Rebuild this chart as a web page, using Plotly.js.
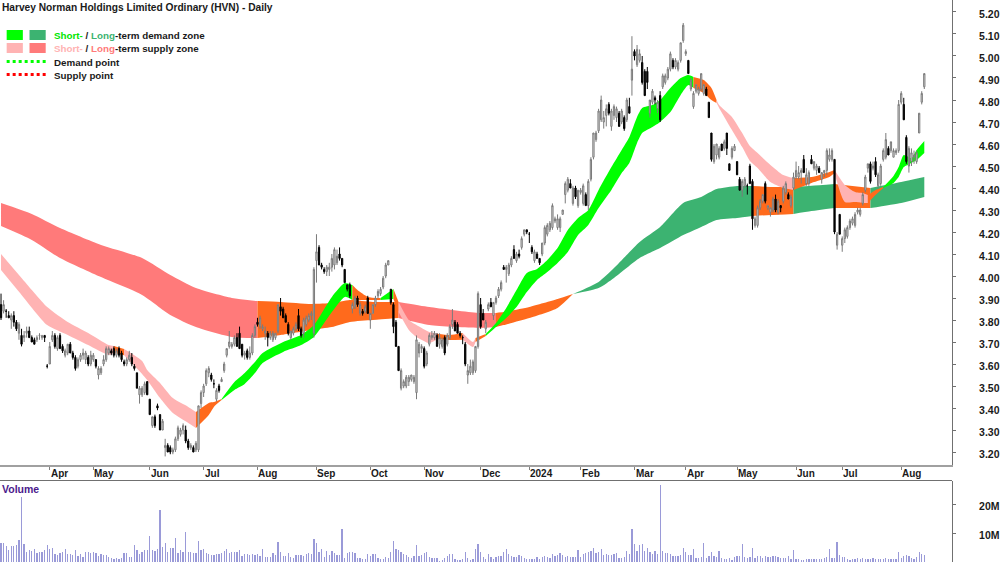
<!DOCTYPE html>
<html>
<head>
<meta charset="utf-8">
<script src="https://cdn.plot.ly/plotly-3.0.1.min.js"></script>
<style>body{margin:0;background:#fff}</style>
</head>
<body>
<div id="grafico" style="width:1000px;height:562px"></div>
<script>
/* Daily bars (ten per line) */
var open = [
3.87,3.84,3.84,3.82,3.80,3.82,3.79,3.74,3.73,3.72,
3.74,3.75,3.72,3.71,3.71,3.73,3.72,3.73,3.59,3.60,
3.71,3.73,3.67,3.73,3.68,3.64,3.65,3.69,3.65,3.63,
3.59,3.62,3.64,3.62,3.63,3.60,3.62,3.62,3.55,3.56,
3.60,3.62,3.65,3.66,3.67,3.64,3.67,3.65,3.61,3.60,
3.62,3.63,3.59,3.56,3.46,3.46,3.47,3.52,3.44,3.32,
3.36,3.41,3.37,3.30,3.22,3.23,3.22,3.20,3.21,3.26,
3.28,3.30,3.30,3.25,3.22,3.22,3.21,3.21,3.42,3.47,
3.51,3.56,3.55,3.51,3.44,3.50,3.52,3.57,3.64,3.68,
3.68,3.69,3.72,3.74,3.69,3.64,3.66,3.63,3.65,3.73,
3.79,3.77,3.76,3.74,3.74,3.72,3.71,3.72,3.75,3.86,
3.85,3.82,3.78,3.72,3.74,3.76,3.82,3.76,3.74,3.78,
3.80,3.82,3.74,4.07,4.13,4.05,4.03,4.02,4.03,4.04,
4.05,4.06,4.10,4.08,4.03,3.96,3.96,3.85,3.86,3.90,
3.83,3.84,3.84,3.90,3.80,3.83,3.87,3.91,3.92,3.95,
4.00,4.05,3.94,3.87,3.79,3.68,3.49,3.50,3.50,3.52,
3.53,3.52,3.47,3.65,3.67,3.67,3.60,3.69,3.72,3.72,
3.73,3.69,3.68,3.72,3.69,3.72,3.78,3.79,3.78,3.74,
3.72,3.69,3.55,3.56,3.56,3.57,3.68,3.87,3.83,3.76,
3.85,3.88,3.82,3.88,3.91,3.94,4.04,4.03,4.01,4.05,
4.12,4.07,4.10,4.13,4.19,4.21,4.19,4.13,4.07,4.10,
4.08,4.10,4.15,4.19,4.21,4.22,4.25,4.22,4.22,4.28,
4.37,4.39,4.42,4.33,4.40,4.32,4.38,4.33,4.37,4.32,
4.44,4.54,4.62,4.66,4.71,4.70,4.73,4.78,4.68,4.73,
4.72,4.74,4.70,4.72,4.71,4.77,4.89,5.02,4.96,4.98,
4.97,4.93,4.93,4.74,4.79,4.81,4.76,4.82,4.86,4.88,
4.90,4.94,4.98,4.95,4.94,4.98,5.07,5.01,4.98,4.85,
4.77,4.84,4.83,4.85,4.83,4.85,4.79,4.65,4.52,4.55,
4.54,4.60,4.58,4.65,4.51,4.54,4.57,4.52,4.44,4.39,
4.41,4.41,4.50,4.43,4.23,4.23,4.31,4.34,4.42,4.31,
4.29,4.30,4.35,4.29,4.32,4.34,4.38,4.37,4.32,4.40,
4.45,4.45,4.47,4.53,4.42,4.42,4.53,4.49,4.48,4.49,
4.44,4.47,4.48,4.53,4.53,4.53,4.14,4.28,4.14,4.17,
4.18,4.22,4.24,4.23,4.29,4.28,4.33,4.39,4.49,4.51,
4.49,4.52,4.41,4.42,4.53,4.54,4.58,4.57,4.54,4.56,
4.57,4.79,4.78,4.63,4.50,4.52,4.54,4.52,4.65,4.79,4.86];
var high = [
3.92,3.89,3.85,3.84,3.83,3.84,3.80,3.79,3.76,3.75,
3.77,3.77,3.73,3.72,3.73,3.74,3.73,3.73,3.60,3.70,
3.75,3.74,3.73,3.74,3.69,3.67,3.69,3.70,3.66,3.64,
3.63,3.65,3.67,3.66,3.64,3.66,3.65,3.62,3.59,3.59,
3.64,3.68,3.68,3.67,3.68,3.67,3.68,3.66,3.62,3.63,
3.66,3.65,3.60,3.56,3.50,3.50,3.52,3.52,3.44,3.36,
3.37,3.42,3.37,3.35,3.26,3.24,3.23,3.22,3.27,3.32,
3.31,3.33,3.32,3.26,3.24,3.23,3.25,3.41,3.48,3.51,
3.58,3.59,3.56,3.53,3.49,3.51,3.54,3.61,3.67,3.75,
3.70,3.73,3.74,3.77,3.69,3.66,3.67,3.68,3.74,3.78,
3.81,3.82,3.78,3.77,3.75,3.75,3.75,3.74,3.87,3.90,
3.86,3.83,3.79,3.75,3.77,3.79,3.85,3.77,3.81,3.82,
3.83,3.84,4.04,4.19,4.14,4.06,4.04,4.05,4.06,4.10,
4.13,4.12,4.13,4.08,4.03,3.96,3.97,3.88,3.91,3.91,
3.88,3.85,3.87,3.91,3.83,3.87,3.91,3.94,3.95,4.00,
4.06,4.07,3.94,3.88,3.80,3.68,3.58,3.53,3.55,3.55,
3.55,3.55,3.73,3.70,3.69,3.68,3.66,3.74,3.75,3.75,
3.74,3.74,3.72,3.73,3.74,3.78,3.85,3.80,3.79,3.75,
3.73,3.70,3.60,3.62,3.62,3.68,3.93,3.90,3.85,3.80,
3.88,3.90,3.88,3.91,3.95,3.98,4.05,4.05,4.06,4.09,
4.14,4.11,4.12,4.18,4.21,4.21,4.20,4.14,4.12,4.11,
4.08,4.15,4.23,4.24,4.25,4.33,4.27,4.28,4.27,4.30,
4.43,4.45,4.44,4.41,4.41,4.39,4.40,4.42,4.38,4.44,
4.54,4.65,4.66,4.76,4.82,4.75,4.78,4.79,4.76,4.78,
4.77,4.75,4.76,4.73,4.81,4.81,5.09,5.03,5.05,5.03,
5.00,4.94,4.95,4.80,4.85,4.82,4.80,4.84,4.92,4.92,
4.95,5.02,4.99,4.99,4.98,5.06,5.15,5.03,4.98,4.90,
4.84,4.87,4.86,4.92,4.87,4.86,4.79,4.65,4.60,4.60,
4.59,4.60,4.62,4.65,4.51,4.59,4.60,4.52,4.45,4.44,
4.45,4.42,4.51,4.44,4.27,4.32,4.35,4.37,4.43,4.32,
4.31,4.36,4.37,4.35,4.32,4.41,4.43,4.38,4.37,4.47,
4.52,4.50,4.49,4.55,4.49,4.48,4.55,4.52,4.51,4.50,
4.47,4.48,4.58,4.58,4.58,4.53,4.20,4.28,4.18,4.22,
4.23,4.26,4.27,4.29,4.31,4.31,4.38,4.46,4.51,4.52,
4.52,4.54,4.47,4.51,4.58,4.65,4.59,4.61,4.58,4.58,
4.80,4.84,4.81,4.64,4.59,4.58,4.57,4.57,4.74,4.84,4.92];
var low = [
3.80,3.83,3.81,3.81,3.76,3.77,3.75,3.71,3.68,3.70,
3.72,3.72,3.70,3.69,3.70,3.71,3.71,3.70,3.58,3.60,
3.70,3.67,3.66,3.67,3.65,3.63,3.64,3.65,3.62,3.57,
3.58,3.61,3.62,3.60,3.59,3.59,3.61,3.58,3.53,3.55,
3.59,3.61,3.64,3.64,3.63,3.63,3.63,3.61,3.59,3.59,
3.61,3.59,3.57,3.49,3.42,3.45,3.46,3.46,3.37,3.31,
3.31,3.39,3.30,3.30,3.18,3.20,3.19,3.19,3.20,3.25,
3.27,3.28,3.24,3.21,3.21,3.20,3.20,3.20,3.40,3.45,
3.50,3.54,3.52,3.49,3.43,3.47,3.52,3.56,3.63,3.67,
3.67,3.68,3.68,3.67,3.63,3.62,3.62,3.62,3.64,3.72,
3.77,3.76,3.75,3.71,3.68,3.71,3.70,3.71,3.74,3.82,
3.81,3.79,3.73,3.71,3.73,3.75,3.75,3.72,3.72,3.77,
3.79,3.80,3.72,3.97,4.05,4.03,4.01,4.00,4.00,4.02,
4.03,4.05,4.07,4.04,3.97,3.93,3.90,3.83,3.85,3.86,
3.82,3.82,3.83,3.83,3.76,3.83,3.86,3.90,3.91,3.94,
3.99,4.05,3.87,3.74,3.68,3.57,3.48,3.49,3.49,3.50,
3.52,3.51,3.44,3.63,3.65,3.58,3.59,3.68,3.71,3.71,
3.68,3.67,3.67,3.64,3.68,3.71,3.76,3.75,3.74,3.72,
3.69,3.59,3.51,3.55,3.55,3.56,3.67,3.76,3.80,3.74,
3.84,3.86,3.80,3.87,3.90,3.93,4.03,3.97,4.00,4.04,
4.08,4.06,4.08,4.12,4.18,4.19,4.15,4.10,4.06,4.08,
4.05,4.09,4.14,4.18,4.20,4.21,4.24,4.21,4.20,4.28,
4.33,4.38,4.40,4.32,4.35,4.31,4.37,4.32,4.32,4.30,
4.43,4.53,4.61,4.65,4.70,4.67,4.68,4.73,4.66,4.71,
4.70,4.68,4.69,4.66,4.70,4.74,4.82,4.98,4.95,4.97,
4.87,4.82,4.85,4.72,4.78,4.78,4.74,4.70,4.85,4.87,
4.89,4.93,4.94,4.94,4.93,4.97,5.06,5.00,4.92,4.84,
4.76,4.83,4.82,4.84,4.82,4.82,4.72,4.52,4.51,4.53,
4.53,4.57,4.57,4.55,4.48,4.53,4.57,4.46,4.39,4.36,
4.40,4.37,4.42,4.21,4.22,4.22,4.30,4.33,4.33,4.30,
4.27,4.29,4.29,4.28,4.29,4.33,4.37,4.35,4.31,4.39,
4.44,4.44,4.42,4.47,4.41,4.41,4.51,4.48,4.46,4.47,
4.42,4.45,4.46,4.52,4.52,4.19,4.12,4.19,4.11,4.15,
4.17,4.21,4.23,4.22,4.28,4.27,4.32,4.38,4.47,4.42,
4.48,4.45,4.40,4.41,4.52,4.53,4.55,4.56,4.54,4.55,
4.56,4.78,4.71,4.51,4.47,4.50,4.51,4.51,4.65,4.78,4.85];
var close = [
3.81,3.87,3.84,3.81,3.82,3.79,3.76,3.78,3.69,3.73,
3.75,3.72,3.70,3.69,3.72,3.73,3.73,3.72,3.59,3.68,
3.73,3.68,3.72,3.67,3.66,3.66,3.69,3.65,3.63,3.58,
3.62,3.64,3.65,3.65,3.60,3.64,3.64,3.59,3.58,3.58,
3.62,3.67,3.67,3.65,3.64,3.66,3.64,3.62,3.60,3.62,
3.64,3.60,3.58,3.49,3.49,3.49,3.51,3.46,3.37,3.36,
3.32,3.40,3.30,3.34,3.23,3.20,3.20,3.21,3.26,3.31,
3.30,3.32,3.25,3.22,3.23,3.20,3.24,3.41,3.47,3.50,
3.57,3.58,3.53,3.51,3.48,3.48,3.53,3.60,3.67,3.70,
3.69,3.72,3.68,3.67,3.64,3.65,3.63,3.65,3.73,3.77,
3.78,3.81,3.77,3.75,3.72,3.74,3.74,3.74,3.87,3.84,
3.81,3.79,3.74,3.75,3.76,3.78,3.76,3.73,3.80,3.81,
3.82,3.83,4.03,4.11,4.05,4.04,4.02,4.04,4.04,4.08,
4.12,4.09,4.08,4.05,3.97,3.94,3.91,3.87,3.90,3.87,
3.87,3.83,3.86,3.83,3.83,3.87,3.90,3.93,3.94,3.99,
4.05,4.07,3.88,3.77,3.68,3.57,3.57,3.52,3.54,3.54,
3.55,3.54,3.71,3.69,3.68,3.59,3.65,3.73,3.73,3.74,
3.68,3.72,3.71,3.65,3.73,3.77,3.80,3.75,3.74,3.73,
3.72,3.60,3.57,3.59,3.61,3.68,3.92,3.77,3.80,3.79,
3.87,3.86,3.88,3.90,3.94,3.97,4.03,4.04,4.05,4.08,
4.08,4.10,4.09,4.17,4.21,4.20,4.19,4.11,4.11,4.08,
4.06,4.15,4.22,4.23,4.24,4.32,4.26,4.26,4.26,4.30,
4.42,4.44,4.40,4.40,4.36,4.39,4.39,4.41,4.32,4.43,
4.53,4.65,4.65,4.75,4.80,4.72,4.76,4.74,4.75,4.77,
4.76,4.68,4.75,4.67,4.80,4.74,4.94,5.00,5.03,5.01,
4.88,4.82,4.88,4.80,4.84,4.80,4.79,4.71,4.91,4.91,
4.94,5.01,4.95,4.98,4.97,5.06,5.14,5.02,4.92,4.89,
4.83,4.87,4.85,4.92,4.87,4.82,4.72,4.53,4.59,4.60,
4.58,4.57,4.61,4.58,4.48,4.58,4.59,4.46,4.39,4.43,
4.44,4.41,4.42,4.26,4.26,4.31,4.34,4.37,4.34,4.32,
4.31,4.35,4.30,4.34,4.31,4.40,4.42,4.35,4.36,4.45,
4.48,4.47,4.48,4.47,4.46,4.47,4.51,4.52,4.50,4.47,
4.47,4.48,4.57,4.55,4.57,4.20,4.19,4.19,4.17,4.21,
4.22,4.25,4.26,4.28,4.30,4.30,4.37,4.45,4.51,4.43,
4.50,4.46,4.46,4.50,4.57,4.62,4.55,4.61,4.57,4.57,
4.78,4.83,4.71,4.52,4.58,4.56,4.55,4.56,4.74,4.83,4.92];
/* Volume, millions */
var volume = [
6.6,6.4,5.4,4.3,5.6,5.6,5.8,7.6,22.6,6.3,
3.5,4.3,3.9,4.4,3.1,3.4,3.6,4.0,5.9,4.6,
5.0,2.8,2.5,3.2,3.3,4.4,2.9,2.7,2.4,4.3,
2.1,2.6,1.9,3.6,3.4,3.1,3.6,3.0,2.1,2.6,
2.5,2.3,1.6,1.4,1.1,1.5,1.2,1.3,3.0,3.2,
1.8,1.6,5.8,4.0,2.9,3.3,4.3,4.2,9.1,4.1,
3.8,4.5,17.9,5.2,6.7,3.6,4.7,4.8,8.3,3.0,
4.0,3.5,10.2,3.3,3.4,3.1,3.0,7.2,4.1,4.6,
3.1,2.8,2.5,2.5,2.9,2.9,3.1,3.9,4.6,3.0,
3.4,3.5,3.5,4.3,2.1,2.6,2.7,2.5,2.9,2.5,
2.6,2.2,4.4,1.8,1.9,1.6,3.0,2.5,6.8,3.5,
2.0,2.2,3.2,1.8,1.5,2.5,2.3,2.5,2.0,2.7,
3.0,2.6,8.1,6.6,3.3,4.4,1.9,3.7,2.5,3.8,
3.0,2.3,2.5,11.5,1.5,3.2,3.3,3.3,3.1,1.5,
1.3,1.2,0.9,2.6,2.2,2.7,2.6,1.3,1.0,1.1,
1.7,1.5,3.4,7.3,4.5,4.3,3.3,2.9,2.5,1.9,
1.3,2.2,5.8,2.1,2.5,3.2,3.3,1.6,1.5,1.5,
1.4,0.5,0.8,1.5,2.1,2.7,2.8,0.9,0.7,0.8,
0.9,3.5,1.5,0.6,1.2,4.5,6.2,3.4,1.9,1.0,
2.7,1.7,1.2,1.7,2.0,2.0,3.5,4.6,2.8,2.2,
1.9,1.9,2.4,2.1,1.4,1.1,1.1,1.2,1.2,1.9,
1.2,1.8,2.1,1.9,1.4,2.9,2.1,2.5,3.2,2.3,
1.8,2.0,1.9,1.9,1.8,4.2,1.6,2.7,3.0,3.3,
3.8,4.8,3.1,3.3,4.4,2.4,2.8,2.3,2.3,2.6,
3.0,1.5,1.5,1.7,3.9,2.9,11.5,6.1,3.9,5.8,
6.2,3.7,4.8,3.4,2.6,3.7,2.8,26.6,3.8,3.0,
3.0,2.8,2.2,2.0,2.1,2.3,5.0,3.4,2.3,2.5,
4.6,1.5,1.5,1.8,6.7,1.5,2.2,3.3,2.2,1.8,
3.7,1.4,1.0,1.1,1.3,0.6,1.7,2.0,2.0,6.1,
1.7,1.5,1.6,4.9,1.5,2.0,2.0,1.4,2.0,1.7,
1.6,2.0,2.0,1.6,1.4,1.5,1.4,2.0,1.0,4.0,
1.2,0.9,0.8,0.8,1.2,1.2,1.1,0.9,1.0,1.0,
1.1,1.3,1.6,4.4,1.4,1.3,6.9,2.4,1.8,1.6,
1.2,0.8,1.0,1.2,1.5,1.1,1.3,1.2,1.1,1.2,
1.3,1.2,1.1,1.0,1.1,1.3,1.0,0.9,1.0,1.1,
3.3,1.5,2.1,2.3,2.0,1.4,1.1,1.7,3.4,2.6,2.4];

/* Long-term band: top and bottom edge at a bar number */
var longX = [0,12,23,39,55,66,76,90,100,109,121,129,136,145,155,167,186,193,196,206,217,223,233,239,249,257,266,273,279,287,293,300,309,316,325,339,351,360];
var longUp = [4.332,4.282,4.218,4.141,4.082,4.005,3.945,3.900,3.886,3.882,3.873,3.877,3.891,3.882,3.882,3.859,3.832,3.832,3.836,3.859,3.895,3.918,3.973,4.036,4.155,4.223,4.332,4.359,4.395,4.409,4.409,4.405,4.405,4.41,4.418,4.400,4.427,4.450];
var longLo = [4.227,4.164,4.082,3.995,3.914,3.823,3.768,3.723,3.718,3.732,3.755,3.768,3.791,3.800,3.809,3.777,3.764,3.768,3.777,3.809,3.855,3.918,3.945,3.991,4.082,4.127,4.186,4.223,4.255,4.264,4.273,4.277,4.282,4.295,4.309,4.309,4.332,4.359];
var longZones = [[0,100,'#ff7a7a'],[100,155,'#ff6a1c'],[155,193,'#ff7a7a'],[193,223,'#ff6a1c'],[223,293,'#3cb371'],[293,309,'#ff6a1c'],[309,325,'#3cb371'],[325,339,'#ff6a1c'],[339,360,'#3cb371']];

/* Short-term band */
var shortX = [0,8,18,26,34,42,44,48,55,57,62,67,73,76,81,83,86,91,95,99,102,110,117,122,129,134,137,139,143,148,153,155,159,162,167,170,175,180,184,185,189,193,197,201,205,209,213,217,221,225,229,233,238,242,245,248,250,254,257,261,265,268,270,274,277,279,280,285,289,292,295,300,305,309,316,323,325,329,333,336,338,341,344,348,350,352,355,357,360];
var shortUp = [4.10,3.991,3.859,3.791,3.741,3.686,3.682,3.668,3.614,3.573,3.514,3.445,3.405,3.382,3.423,3.427,3.441,3.518,3.559,3.609,3.650,3.700,3.732,3.777,3.905,3.968,3.959,3.936,3.905,3.900,3.941,3.882,3.800,3.777,3.745,3.738,3.732,3.741,3.700,3.718,3.736,3.786,3.855,3.936,4.014,4.032,4.073,4.127,4.209,4.264,4.300,4.391,4.495,4.573,4.632,4.723,4.764,4.777,4.800,4.855,4.900,4.914,4.905,4.891,4.855,4.800,4.777,4.723,4.650,4.591,4.559,4.505,4.459,4.445,4.450,4.473,4.482,4.414,4.382,4.377,4.368,4.391,4.405,4.455,4.495,4.55,4.536,4.573,4.614];
var shortLo = [4.027,3.914,3.777,3.732,3.686,3.641,3.650,3.640,3.555,3.527,3.445,3.377,3.332,3.309,3.368,3.405,3.436,3.482,3.509,3.559,3.605,3.655,3.686,3.723,3.836,3.905,3.891,3.891,3.891,3.891,3.895,3.836,3.755,3.723,3.695,3.712,3.709,3.71,3.677,3.70,3.727,3.768,3.809,3.859,3.927,3.982,4.018,4.059,4.109,4.186,4.232,4.309,4.391,4.468,4.514,4.605,4.65,4.677,4.70,4.745,4.823,4.868,4.855,4.832,4.80,4.786,4.764,4.664,4.586,4.523,4.491,4.427,4.40,4.391,4.423,4.45,4.468,4.336,4.336,4.332,4.332,4.368,4.40,4.423,4.45,4.495,4.514,4.527,4.559];
var shortZones = [[0,44,'#ffb3b3'],[44,48,'#ff6a1c'],[48,76,'#ffb3b3'],[76,86,'#ff6a1c'],[86,137,'#00ff00'],[137,148,'#ff6a1c'],[148,153,'#00ff00'],[153,155,'#ff6a1c'],[155,170,'#ffb3b3'],[170,180,'#ff6a1c'],[180,185,'#ffb3b3'],[185,189,'#ff6a1c'],[189,270,'#00ff00'],[270,279,'#ff6a1c'],[279,309,'#ffb3b3'],[309,325,'#ff6a1c'],[325,338,'#ffb3b3'],[338,344,'#ff6a1c'],[344,360,'#00ff00']];

var monthLabels = ['Apr','May','Jun','Jul','Aug','Sep','Oct','Nov','Dec','2024','Feb','Mar','Apr','May','Jun','Jul','Aug'];
var monthBars = [19,36,58,79,100,123,144,165,187,206,226,247,267,287,310,328,351];

var FONT = 'Liberation Sans, Arial, sans-serif';
var INK = '#1a1a1a';

var days = [];
for (var d = 0; d < close.length; d++) days.push(d);

/* One coloured piece of a band: bottom edge, then top edge filled down to it */
function addBand(list, xs, up, lo, zone) {
  var px = [], top = [], bot = [];
  for (var i = 0; i < xs.length; i++) {
    if (xs[i] >= zone[0] && xs[i] <= zone[1]) {
      px.push(xs[i]); top.push(up[i]); bot.push(lo[i]);
    }
  }
  var edge = {width: 0, shape: 'spline', smoothing: 0.6};
  list.push({x: px, y: bot, type: 'scatter', mode: 'lines', line: edge, hoverinfo: 'skip', showlegend: false});
  list.push({x: px, y: top, type: 'scatter', mode: 'lines', line: edge, fill: 'tonexty', fillcolor: zone[2], hoverinfo: 'skip', showlegend: false});
}

var traces = [];
longZones.forEach(function (z) { addBand(traces, longX, longUp, longLo, z); });
shortZones.forEach(function (z) { addBand(traces, shortX, shortUp, shortLo, z); });

/* candles sit on an overlaying axis so that they are drawn over the scatter fills */
traces.push({
  x: days, open: open, high: high, low: low, close: close, yaxis: 'y3',
  type: 'candlestick', showlegend: false,
  increasing: {line: {color: '#7a7a7a', width: 1}, fillcolor: '#ececec'},
  decreasing: {line: {color: '#000000', width: 1}, fillcolor: '#000000'}
});
traces.push({
  x: days, y: volume, yaxis: 'y2', type: 'bar', width: 0.5, showlegend: false,
  marker: {color: '#9a9ad8', line: {width: 0}}
});

/* Legend and month names, placed by hand */
var PW = 1000, PH = 562;
function pxX(v) { return v / PW; }
function pxY(v) { return 1 - v / PH; }

var shapes = [
  {type: 'rect', xref: 'paper', yref: 'paper', x0: pxX(7), x1: pxX(24), y0: pxY(30), y1: pxY(40), fillcolor: '#00ff00', line: {width: 0}},
  {type: 'rect', xref: 'paper', yref: 'paper', x0: pxX(31), x1: pxX(48), y0: pxY(30), y1: pxY(40), fillcolor: '#3cb371', line: {width: 0}},
  {type: 'rect', xref: 'paper', yref: 'paper', x0: pxX(7), x1: pxX(24), y0: pxY(43), y1: pxY(53), fillcolor: '#ffb3b3', line: {width: 0}},
  {type: 'rect', xref: 'paper', yref: 'paper', x0: pxX(31), x1: pxX(48), y0: pxY(43), y1: pxY(53), fillcolor: '#ff7a7a', line: {width: 0}},
  {type: 'line', xref: 'paper', yref: 'paper', x0: pxX(7), x1: pxX(48), y0: pxY(61.5), y1: pxY(61.5), line: {color: '#00ff00', width: 3, dash: 'dot'}},
  {type: 'line', xref: 'paper', yref: 'paper', x0: pxX(7), x1: pxX(48), y0: pxY(74.5), y1: pxY(74.5), line: {color: '#ff0000', width: 3, dash: 'dot'}},
  {type: 'line', xref: 'paper', yref: 'paper', x0: 0, x1: 1, y0: pxY(480.5), y1: pxY(480.5), line: {color: '#707070', width: 1}}
];

function note(px, py, text, size, color) {
  return {xref: 'paper', yref: 'paper', x: pxX(px), y: pxY(py), xanchor: 'left', yanchor: 'middle',
    text: text, showarrow: false, align: 'left', borderpad: 0,
    font: {family: FONT, size: size || 9.8, color: color || INK, weight: 'bold'}};
}
var annotations = [
  note(56, 35.5, '<span style="color:#00e600">Short-</span> / <span style="color:#3cb371">Long</span>-term demand zone'),
  note(56, 48.5, '<span style="color:#ffb3b3">Short-</span> / <span style="color:#ff7a7a">Long</span>-term supply zone'),
  note(56, 62.5, 'Demand point'),
  note(56, 75.5, 'Supply point'),
  note(1, 489, 'Volume', 10.5, '#4b1a8c')
];
monthLabels.forEach(function (m, i) {
  annotations.push({xref: 'x', yref: 'paper', x: monthBars[i], y: pxY(473.5), xanchor: 'left', yanchor: 'middle',
    text: m, showarrow: false, borderpad: 0,
    font: {family: FONT, size: 10, color: INK, weight: 'bold'}});
});

var layout = {
  width: PW, height: PH, autosize: false,
  margin: {l: 0, r: 48, t: 0, b: 0},
  paper_bgcolor: '#ffffff', plot_bgcolor: '#ffffff',
  font: {family: FONT, size: 10, color: INK},
  title: {text: 'Harvey Norman Holdings Limited Ordinary (HVN) - Daily', x: 0.002, xanchor: 'left', xref: 'paper',
    y: 0.987, yanchor: 'middle', font: {family: FONT, size: 10.2, color: INK, weight: 'bold'}},
  showlegend: false,
  bargap: 0,
  xaxis: {
    range: [-0.4, 370.8], anchor: 'y', showgrid: false, zeroline: false, fixedrange: true,
    rangeslider: {visible: false},
    tickmode: 'array', tickvals: monthBars, showticklabels: false, ticks: 'outside', ticklen: 3, tickcolor: '#808080',
    showline: true, linecolor: '#a0a0a0', linewidth: 2
  },
  yaxis: {
    domain: [0.1726, 1], range: [3.141, 5.2545], side: 'right', anchor: 'x', showgrid: false, zeroline: false,
    fixedrange: true, tickmode: 'linear', tick0: 3.2, dtick: 0.1, tickformat: '.2f',
    ticks: 'outside', ticklen: 3, tickcolor: '#707070', showline: true, linecolor: '#707070', linewidth: 1,
    ticklabelstandoff: 21, ticklabelshift: 2, tickfont: {family: FONT, size: 10.5, color: INK, weight: 'bold'}
  },
  yaxis3: {
    overlaying: 'y', range: [3.141, 5.2545], side: 'right', anchor: 'x', showgrid: false, zeroline: false,
    fixedrange: true, visible: false
  },
  yaxis2: {
    domain: [0, 0.1441], range: [0, 28], side: 'right', anchor: 'x', showgrid: false, zeroline: false,
    fixedrange: true, tickmode: 'array', tickvals: [10, 20], ticktext: ['10M', '20M'],
    ticks: 'outside', ticklen: 3, tickcolor: '#707070', showline: true, linecolor: '#707070', linewidth: 1,
    ticklabelstandoff: 21, ticklabelshift: 2, tickfont: {family: FONT, size: 10.5, color: INK, weight: 'bold'}
  },
  shapes: shapes,
  annotations: annotations
};

Plotly.newPlot('grafico', traces, layout, {displayModeBar: false, staticPlot: true});
</script>
</body>
</html>
